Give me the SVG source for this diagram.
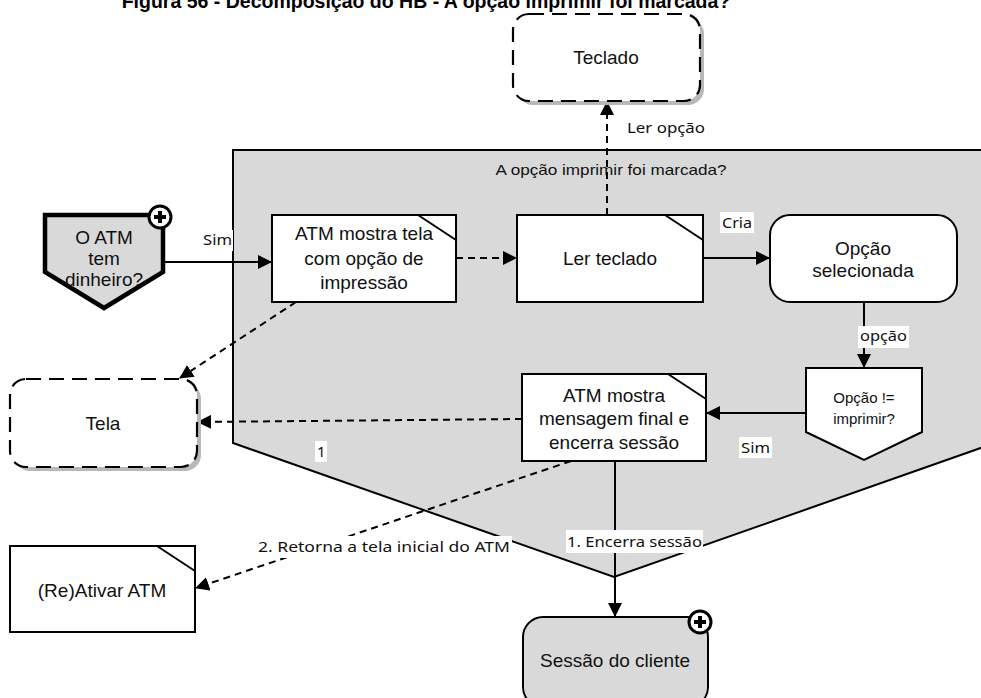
<svg xmlns="http://www.w3.org/2000/svg" width="981" height="698" viewBox="0 0 981 698">
  <style>
    .t { font-family: "Liberation Sans", Arial, sans-serif; font-size: 19px; fill: #111; text-anchor: middle; }
    .s { font-family: "Liberation Sans", Arial, sans-serif; font-size: 15px; fill: #111; text-anchor: middle; }
    .lbl { font-family: "Noto Sans", "Liberation Sans", sans-serif; font-size: 15px; fill: #111; }
    .title { font-family: "Liberation Sans", Arial, sans-serif; font-size: 19.5px; font-weight: bold; fill: #000; text-anchor: middle; }
    .task { fill: #fff; stroke: #000; stroke-width: 2; }
    .fold { fill: none; stroke: #000; stroke-width: 2; }
    .ext { fill: #fff; stroke: #000; stroke-width: 2.2; stroke-dasharray: 15 8; }
    .shadow { fill: #b8b8b8; }
    .solid { fill: none; stroke: #000; stroke-width: 2; }
    .dash { fill: none; stroke: #000; stroke-width: 2; stroke-dasharray: 7 5; }
    .bg { fill: #fff; }
  </style>
  <defs>
    <marker id="arrow" viewBox="0 0 14 14" refX="13" refY="7" markerWidth="14" markerHeight="14" markerUnits="userSpaceOnUse" orient="auto">
      <path d="M0,0 L14,7 L0,14 Z" fill="#000"/>
    </marker>
    <g id="plus">
      <circle r="11" fill="#fff" stroke="#000" stroke-width="3"/>
      <path d="M-6,0 H6 M0,-6 V6" stroke="#000" stroke-width="4"/>
    </g>
  </defs>

  <text class="title" x="426" y="8">Figura 56 - Decomposição do HB - A opção imprimir foi marcada?</text>

  <!-- decomposed process area -->
  <g id="area">
    <path d="M233,150 H995 V443 L614,577 L233,443 Z" fill="#d9d9d9" stroke="#000" stroke-width="2"/>
    <text class="s" x="611" y="175" textLength="231" lengthAdjust="spacingAndGlyphs">A opção imprimir foi marcada?</text>
  </g>

  <g id="connectors">
    <path class="solid" d="M163,262 H271" marker-end="url(#arrow)"/>
    <path class="dash" d="M456,258 H516" marker-end="url(#arrow)"/>
    <path class="dash" d="M607,215 V102" marker-end="url(#arrow)"/>
    <path class="solid" d="M703,258 H769" marker-end="url(#arrow)"/>
    <path class="solid" d="M864,302 V367" marker-end="url(#arrow)"/>
    <path class="solid" d="M806,413 H707" marker-end="url(#arrow)"/>
    <path class="dash" d="M296,302 L180,378" marker-end="url(#arrow)"/>
    <path class="dash" d="M522,419 L198,422" marker-end="url(#arrow)"/>
    <path class="dash" d="M571,461 L196,588" marker-end="url(#arrow)"/>
    <path class="solid" d="M615,461 V616" marker-end="url(#arrow)"/>

    <rect class="bg" x="201" y="230" width="32" height="21"/>
    <text class="lbl" x="203" y="245" textLength="29" lengthAdjust="spacingAndGlyphs">Sim</text>
    <rect class="bg" x="624" y="117" width="84" height="22"/>
    <text class="lbl" x="627" y="133" textLength="78" lengthAdjust="spacingAndGlyphs">Ler opção</text>
    <rect class="bg" x="720" y="212" width="34" height="21"/>
    <text class="lbl" x="722" y="228" textLength="30" lengthAdjust="spacingAndGlyphs">Cria</text>
    <rect class="bg" x="858" y="326" width="51" height="22"/>
    <text class="lbl" x="860" y="341" textLength="47" lengthAdjust="spacingAndGlyphs">opção</text>
    <rect class="bg" x="739" y="437" width="33" height="21"/>
    <text class="lbl" x="741" y="453" textLength="29" lengthAdjust="spacingAndGlyphs">Sim</text>
    <rect class="bg" x="315" y="441" width="12" height="21"/>
    <text class="lbl" x="317" y="457">1</text>
    <rect class="bg" x="256" y="536" width="256" height="22"/>
    <text class="lbl" x="258" y="552" textLength="252" lengthAdjust="spacingAndGlyphs">2. Retorna a tela inicial do ATM</text>
    <rect class="bg" x="566" y="530" width="137" height="23"/>
    <text class="lbl" x="567" y="547" textLength="135" lengthAdjust="spacingAndGlyphs">1. Encerra sessão</text>
  </g>

  <g id="n-dinheiro">
    <path d="M45,215 H163 V272 L104,308 L45,272 Z" fill="#d9d9d9" stroke="#000" stroke-width="4.5" stroke-linejoin="miter"/>
    <text class="t" x="104" y="244">O ATM</text>
    <text class="t" x="104" y="265">tem</text>
    <text class="t" x="104" y="286">dinheiro?</text>
    <use href="#plus" x="160" y="217"/>
  </g>

  <g id="n-mostra-tela">
    <rect class="task" x="272" y="215" width="184" height="87"/>
    <path class="fold" d="M418,215 L456,240"/>
    <text class="t" x="364" y="240">ATM mostra tela</text>
    <text class="t" x="364" y="265">com opção de</text>
    <text class="t" x="364" y="289">impressão</text>
  </g>

  <g id="n-ler-teclado">
    <rect class="task" x="517" y="215" width="186" height="87"/>
    <path class="fold" d="M665,215 L703,240"/>
    <text class="t" x="610" y="265">Ler teclado</text>
  </g>

  <g id="n-opcao">
    <rect class="task" x="770" y="215" width="187" height="87" rx="20"/>
    <text class="t" x="863" y="255">Opção</text>
    <text class="t" x="863" y="277">selecionada</text>
  </g>

  <g id="n-decisao">
    <path d="M806,368 H922 V432 L864,460 L806,432 Z" fill="#fff" stroke="#000" stroke-width="2"/>
    <text class="s" x="864" y="403">Opção !=</text>
    <text class="s" x="864" y="424">imprimir?</text>
  </g>

  <g id="n-mensagem">
    <rect class="task" x="522" y="374" width="184" height="87"/>
    <path class="fold" d="M668,374 L706,399"/>
    <text class="t" x="614" y="402">ATM mostra</text>
    <text class="t" x="614" y="425">mensagem final e</text>
    <text class="t" x="614" y="449">encerra sessão</text>
  </g>

  <g id="n-tela">
    <rect class="shadow" x="14" y="383" width="187" height="88" rx="16"/>
    <rect class="ext" x="10" y="379" width="187" height="88" rx="16"/>
    <text class="t" x="103" y="430">Tela</text>
  </g>

  <g id="n-teclado">
    <rect class="shadow" x="517" y="18" width="187" height="87" rx="16"/>
    <rect class="ext" x="513" y="14" width="187" height="87" rx="16"/>
    <text class="t" x="606" y="64">Teclado</text>
  </g>

  <g id="n-reativar">
    <rect class="task" x="10" y="546" width="185" height="86"/>
    <path class="fold" d="M157,546 L195,571"/>
    <text class="t" x="102" y="597">(Re)Ativar ATM</text>
  </g>

  <g id="n-sessao">
    <rect x="523" y="617" width="185" height="90" rx="20" fill="#d9d9d9" stroke="#000" stroke-width="2"/>
    <text class="t" x="615" y="667">Sessão do cliente</text>
    <use href="#plus" x="700" y="622"/>
  </g>
</svg>
